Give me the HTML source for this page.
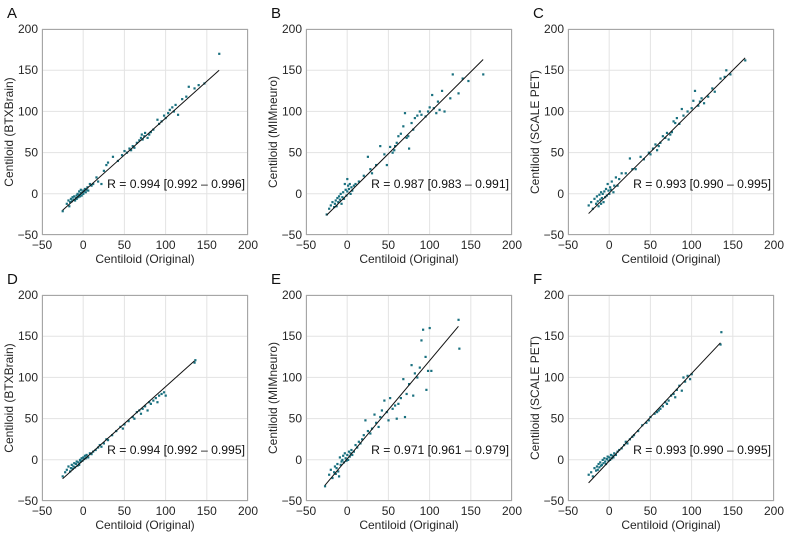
<!DOCTYPE html>
<html><head><meta charset="utf-8"><style>
html,body{margin:0;padding:0;background:#fff;}
svg{display:block;font-family:"Liberation Sans",sans-serif;}
</style></head><body>
<svg id="fig" width="789" height="535" viewBox="0 0 789 535"></svg>
<script>
const panelLetters=["A","B","C","D","E","F"];
const yTitles=["Centiloid (BTXBrain)","Centiloid (MIMneuro)","Centiloid (SCALE PET)","Centiloid (BTXBrain)","Centiloid (MIMneuro)","Centiloid (SCALE PET)"];
const rLabels=["R = 0.994 [0.992 – 0.996]","R = 0.987 [0.983 – 0.991]","R = 0.993 [0.990 – 0.995]","R = 0.994 [0.992 – 0.995]","R = 0.971 [0.961 – 0.979]","R = 0.993 [0.990 – 0.995]"];
const xTicks=[-50,0,50,100,150,200];
const yTicks=[-50,0,50,100,150,200];
const fitLines=[[-25,-20,165,150],[-25,-26,165,163],[-25,-24,165,165],[-25,-23,135,120],[-27,-31,135,162],[-25,-28,135,142]];
const xA=[-25,-20,-18,-17,-16,-15,-14,-13,-12,-11,-10,-9,-8,-8,-7,-6,-5,-5,-4,-3,-3,-2,-1,0,0,1,2,3,4,5,6,8,10,12,16,18,22,25,28,30,36,42,47,50,53,56,58,60,62,65,68,70,71,72,74,75,78,80,82,85,90,92,95,98,100,103,105,108,110,112,115,120,125,128,135,140,147,165];
const yA=[-21,-12,-8,-15,-10,-6,-9,-4,-7,-3,-8,-5,-2,-6,0,-4,-1,3,-3,1,5,-2,2,0,4,3,6,2,5,8,4,12,10,12,20,15,12,28,35,38,45,40,47,52,50,55,53,58,56,62,65,68,72,66,70,74,68,72,75,78,90,85,88,95,92,98,102,105,100,108,96,115,118,130,128,132,134,170];
const xB=[-25,-22,-20,-18,-16,-15,-14,-13,-12,-11,-10,-9,-8,-7,-6,-5,-4,-3,-2,-1,0,0,1,2,3,4,5,6,8,10,14,20,25,28,30,35,40,45,48,52,55,57,58,60,62,65,68,70,72,74,75,78,80,82,85,88,90,95,98,100,103,105,108,110,112,115,118,125,128,135,140,147,165];
const yB=[-25,-18,-14,-10,-16,-12,-8,-15,-5,-10,-3,-7,0,-12,-4,2,-6,12,5,-2,18,3,10,6,12,0,8,4,10,12,15,22,45,30,25,35,58,48,35,57,50,53,58,62,70,73,82,98,68,70,55,86,78,92,95,100,96,94,100,105,120,104,98,112,102,125,100,116,145,122,140,137,145];
const xC=[-25,-22,-20,-18,-16,-15,-14,-13,-12,-11,-10,-10,-9,-8,-7,-6,-5,-4,-3,-2,-1,0,1,2,3,5,6,8,10,12,15,20,25,28,32,38,42,48,50,53,56,58,60,62,65,68,70,72,74,76,78,80,82,85,88,90,95,100,102,104,108,110,112,115,120,125,128,135,140,142,147,165];
const yC=[-14,-10,-18,-6,-12,-3,-9,-15,-1,-7,-12,2,-5,0,-10,3,-4,6,-2,12,4,0,8,5,15,2,10,20,10,18,25,25,43,30,30,45,42,50,48,55,60,53,58,62,70,68,74,66,72,75,88,86,92,85,103,95,100,104,113,125,107,112,116,110,118,128,124,140,142,150,145,162];
const xD=[-25,-22,-20,-18,-16,-15,-14,-13,-12,-11,-10,-9,-8,-7,-6,-5,-4,-3,-2,-1,0,1,2,3,4,5,6,8,10,12,15,18,20,22,25,28,30,35,40,45,48,50,55,60,62,65,68,70,72,75,78,80,82,85,88,90,92,95,98,100,135,136];
const yD=[-20,-15,-12,-8,-14,-10,-6,-11,-8,-4,-9,-5,-2,-7,-3,-6,0,-2,2,-1,3,1,5,2,6,4,3,8,7,10,12,15,18,16,20,25,24,30,35,40,38,43,47,52,50,58,60,56,62,65,60,70,68,72,75,70,78,80,82,78,118,121];
const xE=[-27,-22,-20,-18,-16,-15,-14,-13,-12,-11,-10,-9,-8,-7,-6,-5,-4,-3,-2,-1,0,1,2,3,4,5,6,8,10,12,14,16,18,20,22,25,28,30,33,35,38,40,42,45,48,50,52,55,58,60,62,65,68,70,72,75,78,80,82,85,88,90,92,95,96,98,100,102,135,136];
const yE=[-32,-18,-12,-22,-15,-8,-17,-10,-5,-14,-20,3,-6,-2,0,5,-3,8,2,-1,6,0,10,4,8,12,6,10,18,15,22,20,25,30,48,35,32,38,55,45,40,52,60,72,58,48,75,62,66,50,68,75,98,52,80,92,115,78,105,100,112,145,158,125,85,108,160,108,170,135];
const xF=[-25,-22,-20,-18,-16,-15,-14,-13,-12,-11,-10,-9,-8,-7,-6,-5,-4,-3,-2,-1,0,1,2,3,4,5,6,8,10,12,15,18,20,22,25,28,30,35,40,45,48,50,55,58,60,62,65,68,70,72,75,78,80,82,85,88,90,92,95,98,100,135,136];
const yF=[-18,-15,-20,-10,-13,-8,-12,-5,-9,-3,-7,-6,0,-4,2,-2,-5,1,4,-1,3,0,6,2,5,3,8,6,10,12,14,18,22,20,25,28,30,35,42,45,48,52,56,58,60,62,65,70,68,72,78,80,76,85,90,84,100,95,102,98,104,140,155];
const xs=[xA,xB,xC,xD,xE,xF], ys=[yA,yB,yC,yD,yE,yF];

const NS="http://www.w3.org/2000/svg";
const svg=document.getElementById('fig');
function mk(tag,attrs,parent){const e=document.createElementNS(NS,tag);for(const k in attrs)e.setAttribute(k,attrs[k]);(parent||svg).appendChild(e);return e;}
const lefts=[42,306,568], tops=[29,295], W=206, H=206;
for(let p=0;p<6;p++){
  const L=lefts[p%3], T=tops[Math.floor(p/3)];
  const sx=v=>L+(v+50)/250*W, sy=v=>T+H-(v+50)/250*H;
  const g=mk('g',{});
  
  
  mk('rect',{x:L,y:T,width:W,height:H,fill:'#fff'},g);
  xTicks.forEach(t=>{const l=mk('line',{x1:sx(t),x2:sx(t),y1:T,y2:T+H,stroke:'#e3e3e3','stroke-width':1},g);
    
    const tx=mk('text',{x:sx(t),y:T+H+14,'text-anchor':'middle','font-size':12,fill:'#262626'},g);tx.textContent=t<0?'−'+(-t):t;
    });
  yTicks.forEach(t=>{const l=mk('line',{x1:L,x2:L+W,y1:sy(t),y2:sy(t),stroke:'#e3e3e3','stroke-width':1},g);
    
    const tx=mk('text',{x:L-4,y:sy(t)+4,'text-anchor':'end','font-size':12,fill:'#262626'},g);tx.textContent=t<0?'−'+(-t):t;
    });
  const fr=mk('rect',{x:L+0.5,y:T+0.5,width:W-1,height:H-1,fill:'none',stroke:'#a6a6a6','stroke-width':1},g);
  
  xs[p].forEach((xv,i)=>{const r=mk('rect',{x:sx(xv)-1,y:sy(ys[p][i])-1,width:2.2,height:2.2,fill:'#19707f'},g);
    });
  const f=fitLines[p];
  const fl=mk('line',{x1:sx(f[0]),y1:sy(f[1]),x2:sx(f[2]),y2:sy(f[3]),stroke:'#111','stroke-width':1},g);
  
  const rt=mk('text',{x:L+W-3,y:T+H-47,'text-anchor':'end','font-size':12.2,fill:'#111'},g);rt.textContent=rLabels[p];
  
  const xt=mk('text',{x:L+W/2,y:T+H+28,'text-anchor':'middle','font-size':12,fill:'#262626'},g);xt.textContent='Centiloid (Original)';
  
  const yt=mk('text',{x:0,y:0,'text-anchor':'middle','font-size':12,fill:'#262626',transform:`translate(${L-29},${T+H/2}) rotate(-90)`},g);yt.textContent=yTitles[p];
  
  const pl=mk('text',{x:L-35,y:T-11,'font-size':15,fill:'#111'},g);pl.textContent=panelLetters[p];
  
}
</script>
</body></html>
